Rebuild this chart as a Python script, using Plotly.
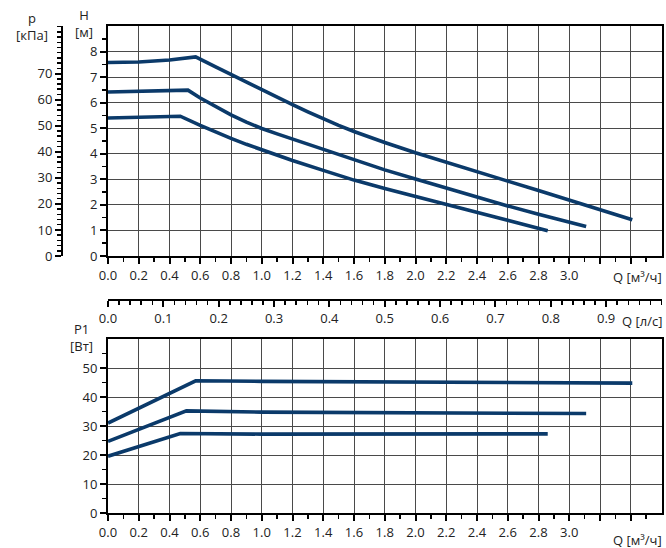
import plotly.graph_objects as go

# ---------------- data ----------------
# Head curves, Q in m3/h, H in m
q_h_high = [0, 0.2, 0.4, 0.57, 0.7, 0.8, 0.9, 1.0, 1.1, 1.2, 1.3, 1.4, 1.5, 1.6, 1.7, 1.8,
            2.0, 2.2, 2.4, 2.6, 2.8, 3.0, 3.2, 3.41]
h_high = [7.57, 7.59, 7.67, 7.79, 7.40, 7.10, 6.80, 6.50, 6.21, 5.92, 5.64, 5.37, 5.11, 4.87, 4.65, 4.44,
          4.04, 3.66, 3.29, 2.93, 2.56, 2.19, 1.81, 1.42]

q_h_mid = [0, 0.2, 0.4, 0.52, 0.6, 0.7, 0.8, 0.9, 1.0, 1.1, 1.2, 1.4, 1.6, 1.8, 2.0, 2.2, 2.4,
           2.6, 2.8, 3.0, 3.11]
h_mid = [6.42, 6.44, 6.48, 6.49, 6.18, 5.83, 5.52, 5.24, 4.99, 4.78, 4.58, 4.17, 3.75, 3.37, 3.01,
         2.65, 2.30, 1.96, 1.63, 1.32, 1.15]

q_h_low = [0, 0.2, 0.4, 0.47, 0.6, 0.7, 0.8, 0.9, 1.0, 1.1, 1.2, 1.4, 1.6, 1.8, 2.0, 2.2, 2.4,
           2.6, 2.8, 2.86]
h_low = [5.40, 5.42, 5.46, 5.47, 5.11, 4.85, 4.60, 4.37, 4.15, 3.94, 3.74, 3.35, 2.97, 2.64, 2.33,
         2.03, 1.73, 1.40, 1.09, 0.99]

# Power curves, Q in m3/h, P1 in W
q_p_high = [0, 0.57, 1.0, 2.0, 3.0, 3.41]
p_high = [31.0, 45.6, 45.4, 45.1, 44.9, 44.8]

q_p_mid = [0, 0.51, 1.0, 2.0, 3.11]
p_mid = [24.7, 35.2, 34.8, 34.5, 34.3]

q_p_low = [0, 0.47, 1.0, 2.0, 2.86]
p_low = [19.6, 27.4, 27.2, 27.2, 27.3]

# Axis ticks
q_ticks = [round(0.2 * i, 1) for i in range(18)]          # 0.0 .. 3.4
q_labels = [f"{v:.1f}" if v <= 3.0 else "" for v in q_ticks]
q_minor = [round(0.1 + 0.2 * i, 1) for i in range(18)]
ls_ticks = [round(0.1 * i, 1) for i in range(11)]
ls_labels = [f"{v:.1f}" if v < 1.0 else "" for v in ls_ticks]
ls_minor = [round(0.02 * i, 2) for i in range(51)]
h_ticks = list(range(0, 9))
h_minor = [0.5 + i for i in range(9)]
p_ticks = list(range(0, 80, 10))
p_minor = list(range(0, 89, 2))
w_ticks = list(range(0, 60, 10))
w_minor = [5 + 10 * i for i in range(6)]

KPA_PER_M = 9.80665

# ---------------- layout helpers ----------------
W, HT = 666, 548
def fx(px):
    return px / W
def fy(py):
    return 1 - py / HT

X0, X1 = 108, 661.5
TOP_T, TOP_B = 26, 256
BOT_T, BOT_B = 339, 513
LS_Y = 300

NAVY = "#0b3a6a"
TXT = "#222222"
FONT = "Open Sans"
GRID = "#4a4a4a"
tickfont = dict(family=FONT, size=13, color=TXT)

def xax(**kw):
    d = dict(range=[0, 3.6], domain=[fx(X0), fx(X1)],
             tickmode="array", tickvals=q_ticks, ticktext=q_labels,
             ticks="outside", ticklen=6, tickwidth=2, tickcolor="black",
             showline=True, linecolor="black", linewidth=2, mirror=True,
             showgrid=True, gridcolor=GRID, gridwidth=1, zeroline=False,
             minor=dict(tickmode="array", tickvals=q_minor, ticks="outside",
                        ticklen=4, tickwidth=1.5, tickcolor="black", showgrid=False),
             tickfont=tickfont, fixedrange=True, automargin=False)
    d.update(kw)
    return d

def yax(**kw):
    d = dict(ticks="outside", ticklen=6, tickwidth=2, tickcolor="black",
             showline=True, linecolor="black", linewidth=2, mirror=True,
             showgrid=True, gridcolor=GRID, gridwidth=1, zeroline=False,
             tickmode="array", tickfont=tickfont, fixedrange=True, automargin=False)
    d.update(kw)
    return d

fig = go.Figure()
line = dict(color=NAVY, width=3.6)

for q, h in [(q_h_high, h_high), (q_h_mid, h_mid), (q_h_low, h_low)]:
    fig.add_trace(go.Scatter(x=q, y=h, mode="lines", line=line,
                             xaxis="x", yaxis="y", showlegend=False, hoverinfo="skip"))
for q, p in [(q_p_high, p_high), (q_p_mid, p_mid), (q_p_low, p_low)]:
    fig.add_trace(go.Scatter(x=q, y=p, mode="lines", line=line,
                             xaxis="x2", yaxis="y2", showlegend=False, hoverinfo="skip"))
# carrier traces for the secondary scales
fig.add_trace(go.Scatter(x=[0.5], y=[None], mode="lines", xaxis="x3", yaxis="y",
                         showlegend=False, hoverinfo="skip"))
fig.add_trace(go.Scatter(x=[0.5], y=[None], mode="lines", xaxis="x", yaxis="y3",
                         showlegend=False, hoverinfo="skip"))

fig.update_layout(
    width=W, height=HT,
    margin=dict(l=0, r=0, t=0, b=0),
    paper_bgcolor="white", plot_bgcolor="white",
    font=dict(family=FONT, size=13, color=TXT),
    xaxis=xax(anchor="y"),
    yaxis=yax(anchor="x", domain=[fy(TOP_B), fy(TOP_T)], range=[0, 9],
              tickvals=h_ticks,
              minor=dict(tickmode="array", tickvals=h_minor, ticks="outside",
                         ticklen=4, tickwidth=1.5, tickcolor="black", showgrid=False)),
    xaxis2=xax(anchor="y2"),
    yaxis2=yax(anchor="x2", domain=[fy(BOT_B), fy(BOT_T)], range=[0, 60],
               tickvals=w_ticks,
               minor=dict(tickmode="array", tickvals=w_minor, ticks="outside",
                          ticklen=4, tickwidth=1.5, tickcolor="black", showgrid=False)),
    xaxis3=dict(overlaying="x", anchor="free", position=fy(LS_Y), side="bottom",
                range=[0, 1], tickmode="array", tickvals=ls_ticks, ticktext=ls_labels,
                ticks="outside", ticklen=6, tickwidth=2, tickcolor="black",
                showline=True, linecolor="black", linewidth=2,
                showgrid=False, zeroline=False, tickfont=tickfont,
                minor=dict(tickmode="array", tickvals=ls_minor, ticks="outside",
                           ticklen=4, tickwidth=1.5, tickcolor="black", showgrid=False),
                fixedrange=True, automargin=False),
    yaxis3=dict(overlaying="y", anchor="free", position=fx(62), side="left",
                range=[0, 9 * KPA_PER_M], tickmode="array", tickvals=p_ticks,
                ticks="outside", ticklen=6, tickwidth=2, tickcolor="black",
                showline=True, linecolor="black", linewidth=2,
                showgrid=False, zeroline=False, tickfont=tickfont,
                minor=dict(tickmode="array", tickvals=p_minor, ticks="outside",
                           ticklen=4, tickwidth=1.5, tickcolor="black", showgrid=False),
                fixedrange=True, automargin=False),
)

def label(text, px, py, xanchor="center", align="center"):
    fig.add_annotation(text=text, x=fx(px), y=fy(py), xref="paper", yref="paper",
                       showarrow=False, xanchor=xanchor, yanchor="middle", align=align,
                       font=dict(family=FONT, size=13, color=TXT))

label("p<br>[кПа]", 32, 26)
label("H<br>[м]", 84, 24)
label("P1<br>[Вт]", 81, 337)
label("Q [м³/ч]", 664, 277, xanchor="right")
label("Q [л/с]", 664, 321, xanchor="right")
label("Q [м³/ч]", 664, 540, xanchor="right")

fig.write_html("out.html",
               config={"displayModeBar": False, "staticPlot": True},
               post_script="document.body.style.margin='0';document.body.style.overflow='hidden';")
